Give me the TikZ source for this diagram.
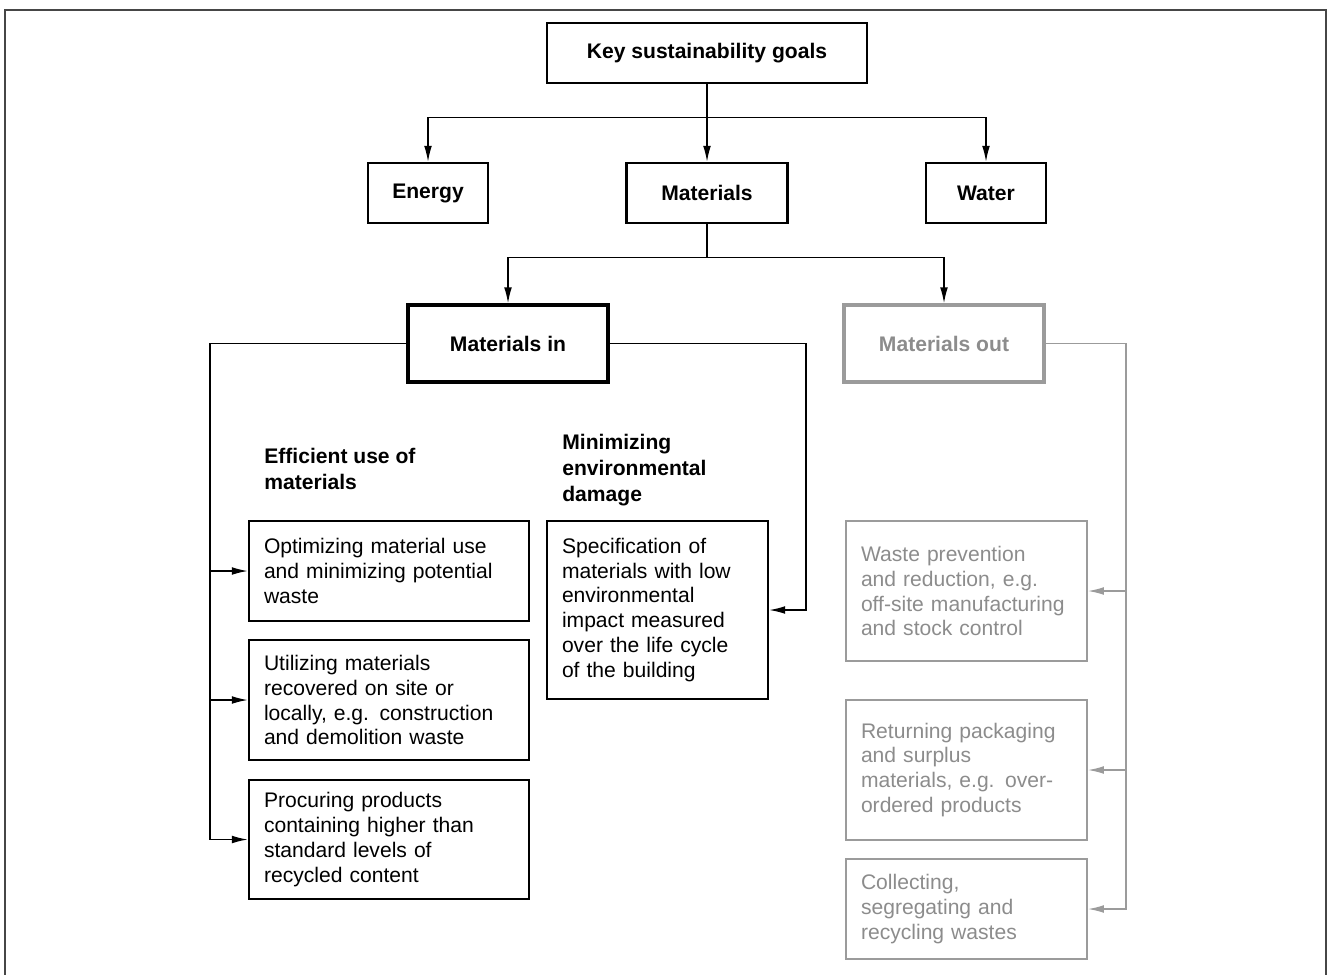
\documentclass[tikz,border=0pt]{standalone}
\usepackage{fontspec}
\setmainfont{Liberation Sans}
\usetikzlibrary{arrows.meta}

\definecolor{outgray}{RGB}{155,155,155}
\definecolor{outtext}{RGB}{140,140,140}
\definecolor{framegray}{RGB}{70,70,70}

\begin{document}
\begin{tikzpicture}[
    font=\fontsize{12}{14.2}\selectfont,
    >={Latex[length=9pt,width=4.4pt]},
    conn/.style={line width=0.8pt,->},
    outconn/.style={line width=0.7pt,->,outgray},
    goalbox/.style={draw,line width=1.4pt,inner sep=0pt,minimum height=1.2cm,font=\fontsize{12}{14.2}\selectfont\bfseries},
    flowbox/.style={draw,line width=2pt,inner sep=0pt,minimum width=4cm,minimum height=1.54cm,font=\fontsize{12}{14.2}\selectfont\bfseries},
    headtext/.style={inner sep=0pt,align=left,anchor=west,font=\fontsize{12}{14.6}\selectfont\bfseries},
    textbox/.style={draw,line width=1.4pt,align=left,inner xsep=0.3cm,inner ysep=0pt},
    outbox/.style={textbox,outgray,text=outtext,line width=1.2pt}
]
    \useasboundingbox (0,0) rectangle (26.54,-19.48);

    % Frame round the figure
    \draw[framegray,line width=0.6pt] (0.1,-19.7) -- (0.1,-0.2) -- (26.52,-0.2) -- (26.52,-19.7);

    % Top of the tree
    \node[goalbox,minimum width=6.4cm] (goals) at (14.14,-1.06) {Key sustainability goals};
    \node[goalbox,minimum width=2.4cm] (energy) at (8.56,-3.86) {Energy};
    \node[goalbox,minimum width=3.22cm] (materials) at (14.14,-3.86) {Materials};
    \node[goalbox,minimum width=2.4cm] (water) at (19.72,-3.86) {Water};

    \node[flowbox] (matin) at (10.16,-6.87) {Materials in};
    \node[flowbox,outgray,text=outtext] (matout) at (18.88,-6.87) {Materials out};

    \draw[conn] (goals.south) -- (materials.north);
    \draw[conn] (goals.south) -- ++(0,-0.66) -| (energy.north);
    \draw[conn] (goals.south) -- ++(0,-0.66) -| (water.north);
    \draw[conn] (materials.south) -- ++(0,-0.66) -| (matin.north);
    \draw[conn] (materials.south) -- ++(0,-0.66) -| (matout.north);

    % Headings over the two columns
    \node[headtext] (effhead) at (5.28,-9.38) {Efficient use of\\materials};
    \node[headtext] (minhead) at (11.24,-9.4) {Minimizing\\environmental\\damage};

    % Materials in
    \node[textbox,text width=5.0cm,minimum height=2.0cm] (optimize) at (7.78,-11.42)
        {Optimizing material use\\and minimizing potential\\waste};
    \node[textbox,text width=5.0cm,minimum height=2.4cm] (utilize) at (7.78,-14.0)
        {Utilizing materials\\recovered on site or\\locally, e.g. construction\\and demolition waste};
    \node[textbox,text width=5.0cm,minimum height=2.38cm] (procure) at (7.78,-16.79)
        {Procuring products\\containing higher than\\standard levels of\\recycled content};
    \node[textbox,text width=3.82cm,minimum height=3.56cm] (specify) at (13.15,-12.2)
        {Specification of\\materials with low\\environmental\\impact measured\\over the life cycle\\of the building};

    \coordinate (lrail) at (4.2,-6.87);
    \coordinate (rrail) at (16.12,-6.87);
    \draw[conn] (matin.west) -| (lrail |- procure.west) -- (procure.west);
    \draw[conn] (lrail |- optimize.west) -- (optimize.west);
    \draw[conn] (lrail |- utilize.west) -- (utilize.west);
    \draw[conn] (matin.east) -| (rrail |- specify.east) -- (specify.east);

    % Materials out
    \node[outbox,text width=4.22cm,minimum height=2.8cm] (prevent) at (19.33,-11.82)
        {Waste prevention\\and reduction, e.g.\\off-site manufacturing\\and stock control};
    \node[outbox,text width=4.22cm,minimum height=2.8cm] (return) at (19.33,-15.4)
        {Returning packaging\\and surplus\\materials, e.g. over-\\ordered products};
    \node[outbox,text width=4.22cm,minimum height=2.0cm] (collect) at (19.33,-18.18)
        {Collecting,\\segregating and\\recycling wastes};

    \coordinate (orail) at (22.52,-6.87);
    \draw[outconn] (matout.east) -| (orail |- collect.east) -- (collect.east);
    \draw[outconn] (orail |- prevent.east) -- (prevent.east);
    \draw[outconn] (orail |- return.east) -- (return.east);
\end{tikzpicture}
\end{document}
